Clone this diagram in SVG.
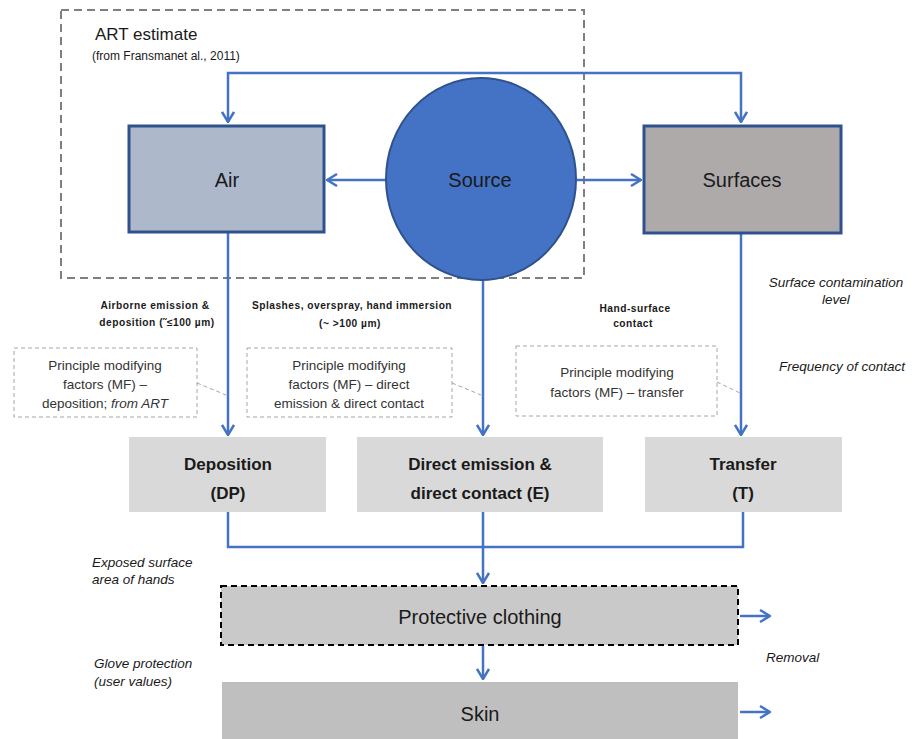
<svg xmlns="http://www.w3.org/2000/svg" width="916" height="739" viewBox="0 0 916 739">
<style>
text{font-family:"Liberation Sans",Arial,sans-serif;fill:#1a1a1a}
.c{stroke:#4472c4;stroke-width:2.5;fill:none}
.mf{fill:#fff;stroke:#a6a6a6;stroke-width:1;stroke-dasharray:4 3}
.lead{stroke:#a6a6a6;stroke-width:1;stroke-dasharray:4 3;fill:none}
.mft{font-size:13.5px;text-anchor:middle;fill:#333}
.lbl{font-size:10.2px;font-weight:bold;text-anchor:middle;letter-spacing:0.5px}
.it{font-size:13.5px;font-style:italic}
.big{font-size:20px;text-anchor:middle}
.bold{font-size:17px;font-weight:bold;text-anchor:middle}
</style>
<defs>
<marker id="a" viewBox="0 0 12 14" refX="11" refY="7" markerWidth="12" markerHeight="14" markerUnits="userSpaceOnUse" orient="auto-start-reverse">
<path d="M1,1 L11,7 L1,13" fill="none" stroke="#4472c4" stroke-width="2.5"/>
</marker>
</defs>
<rect width="916" height="739" fill="#fff"/>
<g id="art">
<rect x="61" y="10" width="523" height="268" fill="none" stroke="#7f7f7f" stroke-width="2" stroke-dasharray="8 5"/>
<text x="95" y="40" font-size="17">ART estimate</text>
<text x="92" y="60" font-size="12">(from Fransmanet al., 2011)</text>
</g>
<g id="connectors">
<path class="c" d="M228,122 V73 H741 V122" marker-start="url(#a)" marker-end="url(#a)"/>
<path class="c" d="M386,180 H327" marker-end="url(#a)"/>
<path class="c" d="M577,180 H641" marker-end="url(#a)"/>
<path class="c" d="M228,232 V435" marker-end="url(#a)"/>
<path class="c" d="M483,280 V435" marker-end="url(#a)"/>
<path class="c" d="M741,233 V435" marker-end="url(#a)"/>
<path class="c" d="M228,512 V547 H743 V512 M483,512 V583" marker-end="url(#a)"/>
<path class="c" d="M483,646 V679" marker-end="url(#a)"/>
<path class="c" d="M740,616 H770" marker-end="url(#a)"/>
<path class="c" d="M740,712 H770" marker-end="url(#a)"/>
<path class="lead" d="M197,383 L226,395"/>
<path class="lead" d="M452,383 L481,395"/>
<path class="lead" d="M717,382 L740,393"/>
</g>
<g id="air">
<rect x="129" y="126" width="195" height="106" fill="#adb9ca" stroke="#2f528f" stroke-width="3"/>
<text class="big" x="227" y="187">Air</text>
</g>
<g id="source">
<ellipse cx="481" cy="179" rx="95" ry="101" fill="#4472c4" stroke="#2f528f" stroke-width="2"/>
<text class="big" x="480" y="187">Source</text>
</g>
<g id="surfaces">
<rect x="644" y="126" width="197" height="107" fill="#aeaaaa" stroke="#2f528f" stroke-width="3"/>
<text class="big" x="742" y="187">Surfaces</text>
</g>
<g id="labels">
<text class="lbl" x="155" y="309">Airborne emission  &amp;</text>
<text class="lbl" x="157" y="326">deposition  (˜≤100 µm)</text>
<text class="lbl" x="352" y="309">Splashes, overspray, hand immersion</text>
<text class="lbl" x="350" y="327">(~ &gt;100 µm)</text>
<text class="lbl" x="635" y="312">Hand-surface</text>
<text class="lbl" x="633" y="327">contact</text>
<text class="it" x="836" y="287" text-anchor="middle">Surface contamination</text>
<text class="it" x="836" y="304" text-anchor="middle">level</text>
<text class="it" x="842" y="371" text-anchor="middle">Frequency of contact</text>
<text class="it" x="92" y="567">Exposed surface</text>
<text class="it" x="92" y="584">area of hands</text>
<text class="it" x="94" y="668">Glove protection</text>
<text class="it" x="94" y="686">(user values)</text>
<text class="it" x="766" y="662">Removal</text>
</g>
<g id="mf-dp">
<rect class="mf" x="14" y="348" width="183" height="69"/>
<text class="mft" x="105" y="370">Principle modifying</text>
<text class="mft" x="105" y="389">factors (MF) –</text>
<text class="mft" x="105" y="408">deposition; <tspan font-style="italic">from ART</tspan></text>
</g>
<g id="mf-e">
<rect class="mf" x="247" y="348" width="205" height="69"/>
<text class="mft" x="349" y="370">Principle modifying</text>
<text class="mft" x="349" y="389">factors (MF) – direct</text>
<text class="mft" x="349" y="408">emission &amp; direct contact</text>
</g>
<g id="mf-t">
<rect class="mf" x="516" y="346" width="201" height="70"/>
<text class="mft" x="617" y="377">Principle modifying</text>
<text class="mft" x="617" y="397">factors (MF) –  transfer</text>
</g>
<g id="dp">
<rect x="129" y="437" width="197" height="75" fill="#d9d9d9"/>
<text class="bold" x="228" y="470">Deposition</text>
<text class="bold" x="228" y="499">(DP)</text>
</g>
<g id="e">
<rect x="357" y="437" width="246" height="75" fill="#d9d9d9"/>
<text class="bold" x="480" y="470">Direct emission &amp;</text>
<text class="bold" x="480" y="499">direct contact (E)</text>
</g>
<g id="t">
<rect x="645" y="437" width="197" height="75" fill="#d9d9d9"/>
<text class="bold" x="743" y="470">Transfer</text>
<text class="bold" x="743" y="499">(T)</text>
</g>
<g id="protective">
<rect x="221" y="586" width="517" height="59" fill="#c9c9c9" stroke="#000" stroke-width="2" stroke-dasharray="6 4"/>
<text class="big" x="480" y="624">Protective clothing</text>
</g>
<g id="skin">
<rect x="222" y="682" width="516" height="62" fill="#bfbfbf"/>
<text class="big" x="480" y="721">Skin</text>
</g>
</svg>
